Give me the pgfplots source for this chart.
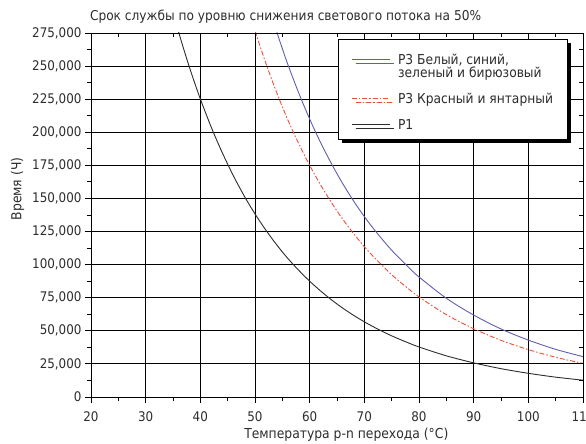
\documentclass[border=0pt]{standalone}
\usepackage{fontspec}
\setmainfont{DejaVu Sans Condensed}
\usepackage{pgfplots}
\pgfplotsset{compat=1.18}
\usetikzlibrary{shadows}
\definecolor{cblue}{RGB}{95,95,175}
\definecolor{cred}{RGB}{235,80,60}
\definecolor{cgray}{RGB}{45,45,45}
\begin{document}
\begin{tikzpicture}
\pgfplotsset{
  common/.style={
    at={(0,0)}, anchor=south west,
    scale only axis, width=492bp, height=364bp,
    xmin=20, xmax=110, ymin=0, ymax=275000,
    xtick={20,30,...,110}, ytick={0,25000,...,275000},
    minor x tick num=1, minor y tick num=1,
    major tick length=6bp, minor tick length=4bp,
    axis line style={black, line width=0.9bp},
    tick style={black, line width=0.9bp},
    scaled y ticks=false,
  }
}
\begin{axis}[
  common,
  xtick pos=left, ytick pos=left,
  tick align=outside,
  grid=major, major grid style={black, line width=0.9bp},
  /pgf/number format/assume math mode=true,
  yticklabel style={/pgf/number format/.cd, fixed, 1000 sep={,}},
  ticklabel style={font=\fontsize{13.3}{15}\selectfont, text=cgray},
  xticklabel style={yshift=-5bp},
  xlabel={Температура p-n перехода (°C)},
  ylabel={Время (Ч)},
  label style={font=\fontsize{13.8}{15}\selectfont, text=cgray},
  xlabel style={at={(0.519,0)}, anchor=base, yshift=-41bp},
  ylabel style={at={(axis description cs:-0.1494,0.514)}, anchor=center, xshift=21bp},
  title={Срок службы по уровню снижения светового потока на 50\%},
  title style={at={(0,1)}, anchor=base west, yshift=7bp, xshift=-4.5bp, font=\fontsize{13.6}{15}\selectfont, text=cgray},
  legend style={at={(0.5015,0.9835)}, anchor=north west, draw=black, line width=0.9bp, fill=white,
    drop shadow={shadow xshift=4bp, shadow yshift=-4bp, fill=black, opacity=1},
    font=\fontsize{13.7}{14}\selectfont,
    nodes={inner sep=1bp, text=cgray},
    cells={align=left, anchor=north west},
    row sep=5.5bp, inner xsep=13bp, inner ysep=7bp},
  legend image code/.code={\draw[#1] (0bp,-6.2bp) -- (38bp,-6.2bp); \path (45bp,6bp);},
]
\addplot[cblue, line width=0.9bp, smooth] coordinates {
(54,275500) (55,263200) (56,251300) (58,229700) (60,210000) (62,192200) (64,176200)
(66,161500) (68,148300) (70,136300) (72,125500) (75,110900) (78,98400) (80,90700)
(85,74600) (90,61900) (95,51400) (100,43000) (105,36000) (110,30500)};
\addlegendentry{P3 Белый, синий,\\[-1bp]зеленый и бирюзовый}
\addplot[cred, line width=0.9bp, smooth, dash pattern=on 5bp off 2bp on 1.5bp off 2bp] coordinates {
(50,276600) (52,252000) (54,229600) (56,209400) (58,191400) (60,175000) (62,160200)
(64,146800) (66,134600) (68,123600) (70,113600) (72,104600) (75,92400) (78,82000)
(80,75600) (85,62200) (90,51600) (95,42800) (100,35800) (105,30000) (110,25400)};
\addlegendentry{P3 Красный и янтарный}
\addplot[cgray, line width=0.9bp, smooth] coordinates {
(36,276100) (37,262300) (38,249200) (39,236900) (40,225200) (42,203800) (44,184700)
(46,167500) (48,152100) (50,138300) (52,126000) (54,114800) (56,104700) (58,95700)
(60,87500) (62,80100) (64,73400) (66,67300) (68,61800) (70,56800) (72,52300)
(75,46200) (78,41000) (80,37800) (85,31100) (90,25800) (95,21400) (100,17900)
(105,15000) (110,12700)};
\addlegendentry{P1}
\end{axis}
\begin{axis}[
  common,
  xtick pos=right, ytick pos=right,
  tick align=inside,
  xticklabels={}, yticklabels={},
]
\end{axis}
\pgfresetboundingbox
\useasboundingbox (-91bp,-47bp) rectangle (495bp,397bp);
\end{tikzpicture}
\end{document}
